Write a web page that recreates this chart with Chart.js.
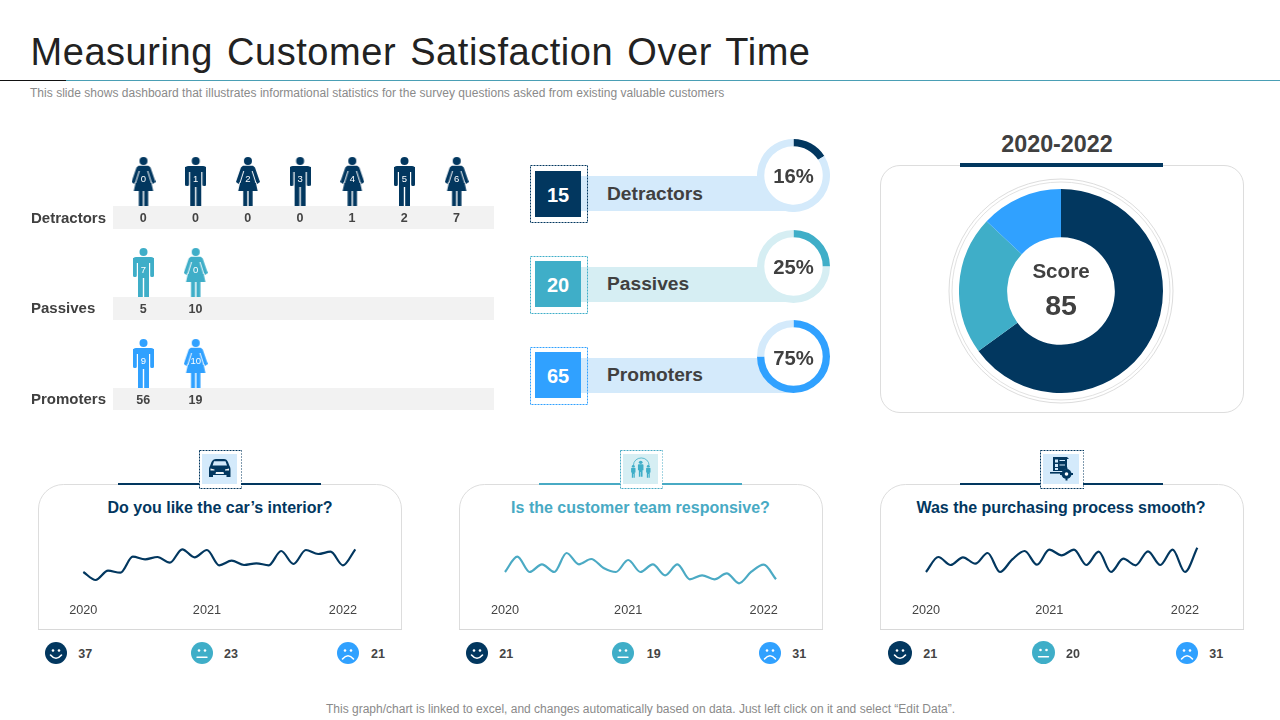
<!DOCTYPE html>
<html><head><meta charset="utf-8">
<style>
html,body{margin:0;padding:0;background:#fff;width:1280px;height:720px;overflow:hidden;font-family:"Liberation Sans",Arial,sans-serif;color:#404040}
#p{position:relative;width:1280px;height:720px;overflow:hidden}
#p>*{position:absolute}
.t{white-space:nowrap;line-height:1}
canvas{display:block}
</style>
<script src="https://cdn.jsdelivr.net/npm/chart.js@4"></script>
</head><body><div id="p"></div>
<script>
// ---------- data ----------
const years = ["2020","2021","2022"];
const yearIndexes = [0,10,21];
const interiorSeries = [18,10,19.3,17.3,33.3,30.7,33,27.3,40.7,32.7,40,24.7,29.3,25,26.7,24.7,39,26,40,36,38.3,24.7,40.7];
const teamSeries = [18,33.3,18,25.7,18,37,25.7,31,22,18,30,18,25.7,14.7,25.7,10.7,14.7,10.7,16.7,6.7,18.3,25.3,10.7];
const purchaseSeries = [18,33,25,32.7,26.3,37,18,30.7,39,25.3,40.3,34.7,40.3,25,38.3,18,31.3,24.7,38.7,25,40.3,18,42.3];
const interiorCounts = [37,23,21];
const teamCounts = [21,19,31];
const purchaseCounts = [21,20,31];
const groupNames = ["Detractors","Passives","Promoters"];
const groupTotals = [15,20,65];
const groupPercents = [16,25,75];
const detractorValues = [0,0,0,0,1,2,7];
const passiveValues = [5,10];
const promoterValues = [56,19];
const detractorIcons = ["0","1","2","3","4","5","6"];
const passiveIcons = ["7","0"];
const promoterIcons = ["9","10"];
const detractorBodies = ["w","m","w","m","w","m","w"];
const passiveBodies = ["m","w"];
const promoterBodies = ["m","w"];
const scoreLabels = ["Promoters","Passives","Detractors"];
const scoreShares = [65,22,13];
const scoreValue = 85;
const scorePeriod = "2020-2022";
const questions = ["Do you like the car’s interior?","Is the customer team responsive?","Was the purchasing process smooth?"];

// ---------- styling ----------
const NAVY="#02375F",TEAL="#3FAEC8",BLUE="#30A1FF",LB="#D4EAFB",LT="#D6EEF3",TXT="#404040";
const p=document.getElementById("p");
Chart.defaults.font.family='"Liberation Sans",Arial,sans-serif';
Chart.defaults.animation=false;
Chart.defaults.responsive=false;
Chart.defaults.plugins.legend.display=false;
Chart.defaults.plugins.tooltip.enabled=false;

function T(text,x,y,css,anchor){
  const d=document.createElement("div");d.className="t";d.textContent=text;
  const tx=anchor==="c"?"-50%":anchor==="r"?"-100%":"0";
  d.style.cssText=`left:${x}px;top:${y}px;transform:translate(${tx},-50%);${css}`;
  p.appendChild(d);return d;
}
function R(x,y,w,h,css){const d=document.createElement("div");d.style.cssText=`left:${x}px;top:${y}px;width:${w}px;height:${h}px;${css}`;p.appendChild(d);return d;}
function C(x,y,w,h){const c=document.createElement("canvas");c.width=w;c.height=h;c.style.cssText=`left:${x}px;top:${y}px;width:${w}px;height:${h}px`;p.appendChild(c);return c;}
function S(x,y,w,h,inner){const n=document.createElement("div");n.style.cssText=`left:${x}px;top:${y}px;width:${w}px;height:${h}px`;n.innerHTML=`<svg xmlns="http://www.w3.org/2000/svg" width="${w}" height="${h}" viewBox="0 0 ${w} ${h}" style="display:block">${inner}</svg>`;p.appendChild(n);return n;}
function dashed(x,y,w,h,col){S(x,y,w+1,h+1,`<rect x=".5" y=".5" width="${w}" height="${h}" fill="none" stroke="${col}" stroke-width="1" stroke-dasharray="2 1"/>`);}

// ---------- header ----------
T("Measuring Customer Satisfaction Over Time",30.5,52,"font-size:38px;color:#222;word-spacing:3px;letter-spacing:.55px");
R(66,80,1214,1,"background:#4A9FB5");
R(0,80,66,1,"background:#111");
T("This slide shows dashboard that illustrates informational statistics for the survey questions asked from existing valuable customers",30,92.5,"font-size:12px;color:#8a8a8a;letter-spacing:.025px");
T("This graph/chart is linked to excel, and changes automatically based on data. Just left click on it and select “Edit Data”.",326,708.5,"font-size:12px;color:#8a8a8a");

// ---------- pictogram ----------
function personCanvas(kind,col){
  const c=document.createElement("canvas");c.width=kind==="w"?24:21;c.height=49;
  const g=c.getContext("2d");g.fillStyle=col;
  const cx=c.width/2;
  g.beginPath();g.arc(cx,4,4,0,7);g.fill();
  if(kind==="m"){
    g.beginPath();g.roundRect(0,9,21,6,[3,3,0,0]);g.fill();
    g.beginPath();g.roundRect(0,10,3.8,19,[0,0,1.5,1.5]);g.roundRect(17.2,10,3.8,19,[0,0,1.5,1.5]);g.fill();
    g.fillRect(5,12,11,18);
    g.fillRect(5,29,4.8,20);g.fillRect(11.2,29,4.8,20);
  }else{
    g.beginPath();
    g.moveTo(7,8.7);g.lineTo(17,8.7);g.lineTo(19,10.5);g.lineTo(24,25);g.lineTo(21.3,27);g.lineTo(19.5,24);
    g.lineTo(21.7,34);g.lineTo(2.3,34);g.lineTo(4.5,24);g.lineTo(2.7,27);g.lineTo(0,25);g.lineTo(5,10.5);g.closePath();g.fill();
    g.strokeStyle="#fff";g.lineWidth=1;
    g.beginPath();g.moveTo(7.8,14);g.lineTo(4,26);g.moveTo(16.2,14);g.lineTo(20,26);g.stroke();
    g.fillRect(7.3,34,4,15);g.fillRect(12.7,34,4,15);
  }
  return c;
}
const rowSets=[
 {bodies:detractorBodies,icons:detractorIcons,values:detractorValues,col:NAVY},
 {bodies:passiveBodies,icons:passiveIcons,values:passiveValues,col:TEAL},
 {bodies:promoterBodies,icons:promoterIcons,values:promoterValues,col:BLUE}];
const pictoPlugin={id:"picto",
 beforeDatasetsDraw(ch){const g=ch.ctx,y=ch.scales.y;g.save();g.fillStyle="#F2F2F2";
  rowSets.forEach((r,i)=>{const py=y.getPixelForValue(i);g.fillRect(113,py+24.5,381,i===2?22:23);});g.restore();},
 afterDatasetsDraw(ch){const g=ch.ctx,x=ch.scales.x,y=ch.scales.y;g.save();g.textAlign="center";g.textBaseline="middle";
  rowSets.forEach((r,i)=>{const py=y.getPixelForValue(i);
   r.values.forEach((v,j)=>{const px=x.getPixelForValue(j);
    g.fillStyle="#fff";g.font='9.5px "Liberation Sans"';g.fillText(r.icons[j],px,py-2.3);
    g.fillStyle="#444";g.font='bold 12.5px "Liberation Sans"';g.fillText(String(v),px-0.2,py+36.8);
   });});g.restore();}};
new Chart(C(0,130,510,290),{type:"scatter",
 data:{datasets:rowSets.map((r,i)=>({data:r.values.map((v,j)=>({x:j,y:i})),
   pointStyle:r.bodies.map(b=>personCanvas(b,r.col)),clip:false,pointRadius:3}))},
 options:{layout:{padding:{left:143.5,right:53.3,top:51.5,bottom:56.5}},
  scales:{x:{type:"linear",min:0,max:6,display:false},y:{type:"linear",min:0,max:2,reverse:true,display:false}}},
 plugins:[pictoPlugin]});
const rowLabelY=[217,307,398];
groupNames.forEach((n,i)=>T(n,31,rowLabelY[i],"font-size:15px;font-weight:bold;color:#404040"));

// ---------- group gauges ----------
const gaugeRows=[
 {fillY:171,outY:165,bandY:176,bandH:35,cy:175,col:NAVY,bg:LB,dash:NAVY,labelY:193.5,pctY:175.5},
 {fillY:261,outY:256,bandY:267,bandH:35,cy:266,col:TEAL,bg:LT,dash:TEAL,labelY:283.5,pctY:266.5},
 {fillY:352,outY:347,bandY:358,bandH:35,cy:356.7,col:BLUE,bg:LB,dash:BLUE,labelY:374.5,pctY:358}];
gaugeRows.forEach((r,i)=>{
 R(581,r.bandY,212,r.bandH,`background:${r.bg}`);
 dashed(530,r.outY,57,57,r.dash);
 R(535,r.fillY,46,46,`background:${r.col}`);
 T(String(groupTotals[i]),558,r.fillY+23.5,"font-size:20px;font-weight:bold;color:#fff","c");
 T(groupNames[i],607,r.labelY,"font-size:19.2px;font-weight:bold;color:"+TXT);
 R(793.3-30,r.cy-30,60,60,"background:#fff;border-radius:50%");
 new Chart(C(793.3-36.5,r.cy-36.5,73,73),{type:"doughnut",
  data:{labels:["share","rest"],datasets:[{data:[groupPercents[i],100-groupPercents[i]],backgroundColor:[r.col,r.bg],borderWidth:0}]},
  options:{cutout:"80%"}});
 T(groupPercents[i]+"%",793.5,r.pctY,"font-size:20.3px;font-weight:bold;color:"+TXT,"c");
});

// ---------- score donut ----------
R(880,165,362,246,"border:1px solid #DDD;border-radius:20px;background:#fff");
R(960,163,203,4,"background:"+NAVY);
T(scorePeriod,1057,144.5,"font-size:23.3px;font-weight:bold;color:#404040","c");
S(1061.2-114,290.7-114,228,228,`<circle cx="114" cy="114" r="112" fill="none" stroke="#DDD"/><circle cx="114" cy="114" r="109" fill="none" stroke="#E2E2E2"/>`);
new Chart(C(1061.2-102,290.7-102,204,204),{type:"doughnut",
 data:{labels:scoreLabels,datasets:[{data:scoreShares,backgroundColor:[NAVY,TEAL,BLUE],borderWidth:0}]},
 options:{cutout:"52.8%"}});
T("Score",1061,271,"font-size:20.6px;font-weight:bold;color:#404040","c");
T(String(scoreValue),1061,304.5,"font-size:28.5px;font-weight:bold;color:#404040","c");

// ---------- question cards ----------
function face(x,y,r,kind,col){
 const m=kind===0?`<path d="M${r-5.5} ${r+2}Q${r} ${r+8.5} ${r+5.5} ${r+2}" stroke="#fff" stroke-width="1.6" fill="none" stroke-linecap="round"/>`
  :kind===1?`<path d="M${r-5} ${r+4.2}H${r+5}" stroke="#fff" stroke-width="1.4" stroke-linecap="round"/>`
  :`<path d="M${r-5.5} ${r+6}Q${r} ${r-0.5} ${r+5.5} ${r+6}" stroke="#fff" stroke-width="1.6" fill="none" stroke-linecap="round"/>`;
 S(x-r,y-r,2*r,2*r,`<circle cx="${r}" cy="${r}" r="${r}" fill="${col}"/><circle cx="${r-3}" cy="${r-2.5}" r="1.3" fill="#fff"/><circle cx="${r+3}" cy="${r-2.5}" r="1.3" fill="#fff"/>${m}`);
}
const carIcon=`<g fill="${NAVY}"><path d="M7 0H15C17 0 18 1 19 3L20.5 7C21.3 8 21.5 9 21.5 11V18H17.5V16H4V18H0V11C0 9 .2 8 1 7L2.5 3C3.5 1 5 0 7 0ZM5 2.2L3.6 6.5H18L16.5 2.2Z"/></g><g fill="#fff"><path d="M1.5 9.5L5.5 10.5V11.5H1.5ZM20 9.5L16 10.5V11.5H20ZM7 13H14.5L15 15H6.5Z" opacity=".95"/></g>`;
function person(cx,top,h,col){const s=h/20;return `<g fill="${col}" transform="translate(${cx} ${top}) scale(${s*1.15} ${s})"><circle cx="0" cy="2" r="2"/><path d="M-3 5.5Q-3 4.5 -2 4.5H2Q3 4.5 3 5.5V12H2V20H.3V14H-.3V20H-2V12H-3Z"/></g>`;}
const teamIcon=`<path d="M13.5 8A7.7 7 0 0 1 29 8" fill="none" stroke="${TEAL}" stroke-width=".8"/>`+person(20.7,3.7,16,TEAL)+person(13.3,8,12.7,TEAL)+person(28.3,8,12.7,TEAL);
const docIcon=`<g fill="${NAVY}"><path d="M3 0H17L19 2H17V11L13 14H3ZM5 2.5V5.5H8V2.5ZM9.5 3V4H15V3ZM5 7V10H8V7ZM9.5 7.5V8.5H15V7.5ZM5 11V13H8V11Z" fill-rule="evenodd"/><rect x="0" y="15" width="12" height="1.6"/><circle cx="16.5" cy="17" r="5"/><path d="M15.5 10.5h2v2h-2ZM15.5 21.5h2v2h-2ZM10 16h2v2h-2ZM21 16h2v2h-2Z"/></g><circle cx="16.5" cy="17" r="1.8" fill="#fff"/>`;
const cards=[
 {x:38.5,qx:220,lineX:118,box:198.5,series:interiorSeries,counts:interiorCounts,col:NAVY,lineCol:"#02375F",bg:LB,px:83.3,pxr:355.3,faces:[[56,11],[202.3,11],[348.3,11]],nums:[78.3,224,371],icon:carIcon,ix:209,iy:459,iw:22,ih:18,boxW:43},
 {x:459.5,qx:640.5,lineX:539,box:619.5,series:teamSeries,counts:teamCounts,col:"#48AAC4",lineCol:"#4BAAC4",bg:LT,px:505,pxr:776,faces:[[477,11],[623.3,11],[769.7,11]],nums:[499.3,646.7,792.3],icon:teamIcon,ix:620,iy:457,iw:44,ih:28,boxW:43},
 {x:880.5,qx:1061,lineX:960,box:1039.5,series:purchaseSeries,counts:purchaseCounts,col:NAVY,lineCol:"#02375F",bg:LB,px:926,pxr:1197.3,faces:[[900.3,12],[1043.7,11.5],[1187,11]],nums:[923.3,1066,1209.3],icon:docIcon,ix:1050,iy:456.5,iw:26,ih:26,boxW:44}];
const faceCols=[NAVY,TEAL,BLUE];
const lineLabels=interiorSeries.map((v,i)=>{const k=yearIndexes.indexOf(i);return k<0?"":years[k];});
cards.forEach((c,i)=>{
 const w=363;
 S(c.x-.5,484,w+1,146.5,`<path d="M.5 146V25A25 24.5 0 0 1 25.5 .5H${w-24.5}A25 24.5 0 0 1 ${w+.5} 25V146" fill="none" stroke="#DDD"/><path d="M0 145.5H${w+1}" stroke="#D8D8D8"/>`);
 R(c.lineX,482.5,203,2,"background:"+c.col);
 R(c.box,450,c.boxW-1,38,"background:#fff");
 R(c.box+3.5,453.5,c.boxW-8,30,"background:"+c.bg);
 dashed(c.box,449.5,c.boxW-.5,38,c.col);
 S(c.ix,c.iy,c.iw,c.ih,c.icon);
 T(questions[i],c.qx,507.5,`font-size:16px;font-weight:bold;color:${c.col}`,"c");
 const left=Math.round(c.px)-40,top=530,cw=c.pxr-c.px+80;
 new Chart(C(left,top,Math.ceil(cw),95),{type:"line",
  data:{labels:lineLabels,datasets:[{data:c.series,borderColor:c.lineCol,borderWidth:2.2,pointRadius:0,cubicInterpolationMode:"monotone",fill:false,clip:false}]},
  options:{layout:{padding:{left:c.px-left,right:Math.ceil(cw)-(c.pxr-left),top:10,bottom:0}},
   scales:{y:{display:false,min:0,max:50},
    x:{offset:false,grid:{display:false,drawTicks:false},border:{display:false},
     afterFit:s=>{s.height=35;},
     ticks:{autoSkip:false,maxRotation:0,minRotation:0,padding:13,color:"#444",font:{size:12.7}}}}}});
 c.faces.forEach((f,j)=>{face(f[0],652.5,f[1],j,faceCols[j]);T(String(c.counts[j]),c.nums[j],653.5,"font-size:12.5px;font-weight:bold;color:#444");});
});
</script></body></html>
